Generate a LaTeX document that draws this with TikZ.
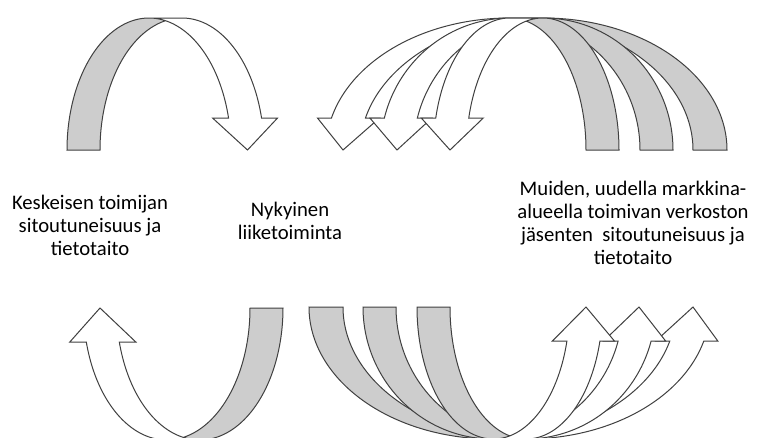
\documentclass[tikz,border=0pt]{standalone}
\usepackage{fontspec}
\setmainfont{Carlito}
\definecolor{edgegrey}{RGB}{64,64,64}
\definecolor{tailgrey}{RGB}{205,205,205}
\tikzset{
  arrowline/.style={draw=edgegrey, line width=1pt, line join=miter},
  labeltext/.style={align=center, font=\fontsize{20.7}{23}\selectfont, inner sep=0pt},
}
% Curved (block) arrow built from two equal ellipses shifted by the band width.
% #1 x of tail edge, #2 y of base line, #3 x-flip, #4 y-flip,
% #5 width, #6 height, #7 band width, #8 head width, #9 head height
\newcommand{\curvedblockarrow}[9]{%
  \pgfmathsetmacro\cbW{#5}%
  \pgfmathsetmacro\cbH{#6}%
  \pgfmathsetmacro\cbT{#7}%
  \pgfmathsetmacro\cbA{#8}%
  \pgfmathsetmacro\cbAh{#9}%
  \pgfmathsetmacro\cbR{\cbW/2-(\cbT+\cbA)/4}%
  \pgfmathsetmacro\cbXR{\cbR+\cbT}%
  \pgfmathsetmacro\cbDX{\cbR*sqrt(1-(\cbAh/\cbH)^2)}%
  \pgfmathsetmacro\cbPhF{asin(\cbAh/\cbH)}%
  \pgfmathsetmacro\cbPhI{acos(\cbT/(2*\cbR))}%
  \pgfmathsetmacro\cbDH{(\cbA-\cbT)/2}%
  \pgfmathsetmacro\cbXfive{\cbR+\cbDX}%
  \pgfmathsetmacro\cbXseven{\cbXR+\cbDX}%
  \pgfmathsetmacro\cbXfour{\cbXfive-\cbDH}%
  \pgfmathsetmacro\cbXeight{\cbXseven+\cbDH}%
  \pgfmathsetmacro\cbXsix{\cbW-\cbA/2}%
  \begin{scope}[shift={(#1,#2)}, xscale=#3, yscale=#4, samples=120]
    % shaded tail band
    \fill[tailgrey]
      plot[domain=180-\cbPhI:180] ({\cbXR+\cbR*cos(\x)},{-\cbH*sin(\x)})
      -- plot[domain=180:\cbPhI] ({\cbR+\cbR*cos(\x)},{-\cbH*sin(\x)}) -- cycle;
    % white shaft and head
    \fill[white]
      (\cbXsix,0) -- (\cbXfour,-\cbAh) -- (\cbXfive,-\cbAh)
      -- plot[domain=\cbPhF:90] ({\cbR+\cbR*cos(\x)},{-\cbH*sin(\x)})
      -- plot[domain=90:\cbPhF] ({\cbXR+\cbR*cos(\x)},{-\cbH*sin(\x)})
      -- (\cbXeight,-\cbAh) -- cycle;
    % outline
    \draw[arrowline]
      plot[domain=180-\cbPhI:180] ({\cbXR+\cbR*cos(\x)},{-\cbH*sin(\x)})
      -- (0,0)
      -- plot[domain=180:90] ({\cbR+\cbR*cos(\x)},{-\cbH*sin(\x)})
      -- plot[domain=90:\cbPhF] ({\cbXR+\cbR*cos(\x)},{-\cbH*sin(\x)})
      -- (\cbXeight,-\cbAh) -- (\cbXsix,0) -- (\cbXfour,-\cbAh)
      -- plot[domain=\cbPhF:90] ({\cbR+\cbR*cos(\x)},{-\cbH*sin(\x)});
  \end{scope}}

\begin{document}
\begin{tikzpicture}[x=1pt, y=-1pt]
  \useasboundingbox (0,0) rectangle (764,437);
  \fill[white] (0,0) rectangle (764,437);
  \clip (0,0) rectangle (764,437);

  % upper left arrow
  \curvedblockarrow{67}{150}{1}{1}{213}{132}{33}{65}{32}
  % upper right arrows, largest first
  \curvedblockarrow{727}{150}{-1}{1}{415}{132}{34}{62}{32}
  \curvedblockarrow{673}{150}{-1}{1}{307}{132}{33}{62}{32}
  \curvedblockarrow{619}{150}{-1}{1}{200}{132}{33}{62}{32}
  % lower left arrow
  \curvedblockarrow{283}{308}{-1}{-1}{216}{132}{33}{66}{34}
  % lower right arrows, largest first
  \curvedblockarrow{309}{307}{1}{-1}{415}{132}{34}{62}{34}
  \curvedblockarrow{363}{307}{1}{-1}{307}{132}{33}{62}{34}
  \curvedblockarrow{417}{307}{1}{-1}{200}{132}{33}{62}{34}

  \node[labeltext] (keskeinen) at (90,225) {Keskeisen toimijan\\sitoutuneisuus ja\\tietotaito};
  \node[labeltext] (nykyinen) at (290,221) {Nykyinen\\liiketoiminta};
  \node[labeltext] (muut) at (633,223) {Muiden, uudella markkina-\\alueella toimivan verkoston\\jäsenten\ \ sitoutuneisuus ja\\tietotaito};
\end{tikzpicture}
\end{document}
